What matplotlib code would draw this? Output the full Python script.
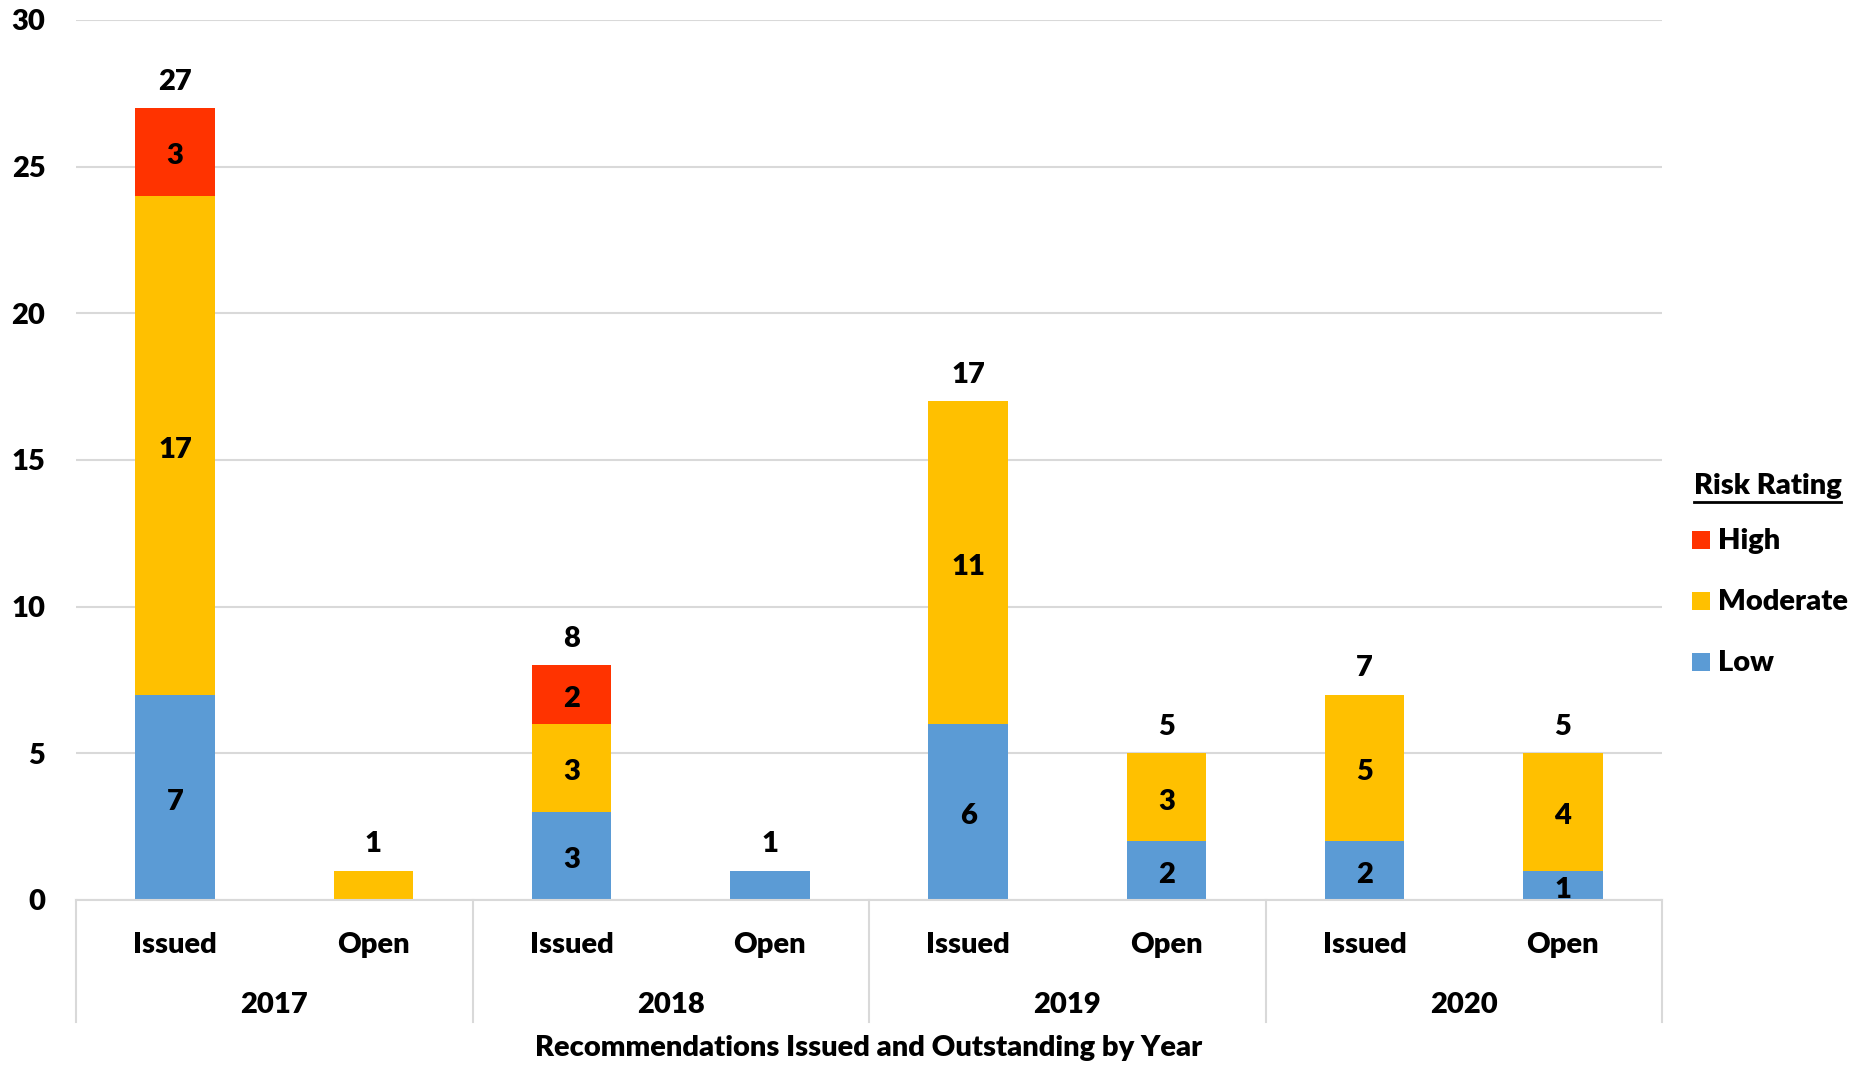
import matplotlib
matplotlib.use("Agg")
import matplotlib.pyplot as plt
from matplotlib.patches import Rectangle
from matplotlib.lines import Line2D
import numpy as np

years = ["2017", "2018", "2019", "2020"]
kinds = ["Issued", "Open"]
low = [7, 0, 3, 1, 6, 2, 2, 1]
moderate = [17, 1, 3, 0, 11, 3, 5, 4]
high = [3, 0, 2, 0, 0, 0, 0, 0]
series_names = ["High", "Moderate", "Low"]
colors = {"Low": "#5B9BD5", "Moderate": "#FFC000", "High": "#FF3300"}
yticks = [0, 5, 10, 15, 20, 25, 30]

plt.rcParams['font.family'] = ['Lato', 'DejaVu Sans']
FW = "heavy"
FS = 21

W, H = 1864, 1065
fig = plt.figure(figsize=(W / 100, H / 100), dpi=100)
ax = fig.add_axes([76 / W, 1 - 900 / H, (1662 - 76) / W, 880 / H])

n = len(low)
x = np.arange(n)
bw = 0.4
stack = [("Low", low), ("Moderate", moderate), ("High", high)]
bottom = np.zeros(n)
nonzero = np.zeros(n)
for _, vals in stack:
    nonzero += (np.array(vals) > 0)
for name, vals in stack:
    vals = np.array(vals, dtype=float)
    ax.bar(x, vals, bw, bottom=bottom, color=colors[name], zorder=3, linewidth=0)
    for i in range(n):
        if vals[i] > 0 and nonzero[i] > 1:
            ax.annotate(f"{int(vals[i])}", (x[i], bottom[i] + vals[i] / 2), xytext=(0, -3),
                        textcoords="offset points", ha="center", va="center",
                        fontsize=FS, fontweight=FW, color="black", zorder=4)
    bottom += vals

for i in range(n):
    ax.annotate(f"{int(bottom[i])}", (x[i], bottom[i]), xytext=(0, 19), textcoords="offset points",
                ha="center", va="center", fontsize=FS, fontweight=FW)

ax.set_xlim(-0.5, n - 0.5)
ax.set_ylim(0, 30)
ax.set_yticks(yticks)
ax.set_yticklabels([str(t) for t in yticks], fontsize=FS, fontweight=FW)
ax.tick_params(axis="y", length=0, pad=22)
ax.tick_params(axis="x", length=0, labelbottom=False)
ax.grid(axis="y", color="#D9D9D9", linewidth=1.5, zorder=0)
for s in ["top", "right", "left"]:
    ax.spines[s].set_visible(False)
ax.spines["bottom"].set_color("#D9D9D9")
ax.spines["bottom"].set_linewidth(1.5)
ax.spines["bottom"].set_zorder(5)

trans = ax.get_xaxis_transform()
sep_bottom = -122 / 880
for k in range(len(years) + 1):
    xs = k * 2 - 0.5
    ax.add_line(Line2D([xs, xs], [0, sep_bottom], transform=trans, color="#D9D9D9",
                       linewidth=1.5, clip_on=False))
for i in range(n):
    ax.text(x[i], -45 / 880, kinds[i % 2], transform=trans, ha="center", va="center",
            fontsize=FS, fontweight=FW)
for j, yr in enumerate(years):
    ax.text(2 * j + 0.5, -105 / 880, yr, transform=trans, ha="center", va="center",
            fontsize=FS, fontweight=FW)

fig.text(869 / W, 1 - 1048 / H, "Recommendations Issued and Outstanding by Year",
         ha="center", va="center", fontsize=FS, fontweight=FW)

# legend
fig.text(1694 / W, 1 - 486 / H, "Risk Rating", ha="left", va="center", fontsize=FS, fontweight=FW)
fig.add_artist(Line2D([1694 / W, 1841 / W], [1 - 502 / H, 1 - 502 / H], color="black",
                      linewidth=2, transform=fig.transFigure))
leg_y = [540, 601, 662]
for name, yy in zip(series_names, leg_y):
    fig.add_artist(Rectangle((1692 / W, 1 - (yy + 9) / H), 18 / W, 18 / H, transform=fig.transFigure,
                             facecolor=colors[name], edgecolor="none"))
    fig.text(1718 / W, 1 - (yy + 1) / H, name, ha="left", va="center", fontsize=FS, fontweight=FW)

fig.savefig("out.png", dpi=100)
